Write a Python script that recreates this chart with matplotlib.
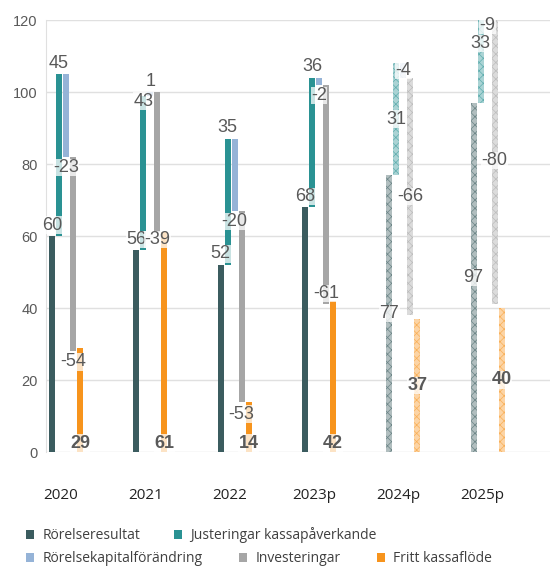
import matplotlib
matplotlib.use("Agg")
import matplotlib.pyplot as plt
from matplotlib.patches import Patch
from matplotlib.colors import to_rgb
import numpy as np

# ---- data ----
years = ['2020', '2021', '2022', '2023p', '2024p', '2025p']
rorelseresultat = [60, 56, 52, 68, 77, 97]
justeringar = [45, 43, 35, 36, 31, 33]
rorelsekapital = [-23, 1, -20, -2, -4, -9]
investeringar = [-54, -39, -53, -61, -66, -80]
fritt_kassaflode = [29, 61, 14, 42, 37, 40]
is_forecast = [False, False, False, False, True, True]
series_names = ['Rörelseresultat', 'Justeringar kassapåverkande',
                'Rörelsekapitalförändring', 'Investeringar', 'Fritt kassaflöde']

# ---- style ----
colors = ['#3b5c5f', '#2a9293', '#95b3d7', '#a6a6a6', '#f7941d']
label_color = '#595959'
teal_dy = [3, -1.5, 3, 3]
inv_dy = [-3, -2, -3.5, 3]

plt.rcParams['hatch.linewidth'] = 0.5


def lighten(c, f=0.5):
    r, g, b = to_rgb(c)
    return (r + (1 - r) * f, g + (1 - g) * f, b + (1 - b) * f)


fig = plt.figure(figsize=(5.5, 5.67), dpi=100)
ax = fig.add_axes([46 / 550, 1 - 452 / 567, 1 - 46 / 550, (452 - 20) / 567])

step = 0.083
width = 0.072
ymax = 120

for i, yr in enumerate(years):
    r = rorelseresultat[i]
    j = justeringar[i]
    k = rorelsekapital[i]
    inv = investeringar[i]
    f = fritt_kassaflode[i]
    bottoms = [0, r, r + j, r + j + k, 0]
    heights = [r, j, k, inv, f]
    fc = is_forecast[i]
    xs = [i + (s - 2) * step for s in range(5)]
    for s in range(5):
        if fc:
            ax.bar(xs[s], heights[s], width=width, bottom=bottoms[s],
                   facecolor=lighten(colors[s], 0.6), edgecolor=lighten(colors[s], 0.25),
                   hatch='xxxx', linewidth=0, zorder=2)
        else:
            ax.bar(xs[s], heights[s], width=width, bottom=bottoms[s],
                   color=colors[s], linewidth=0, zorder=2)

    txt = dict(ha='center', va='center', fontsize=13, color=label_color,
               family='Liberation Sans', zorder=5,
               bbox=dict(facecolor='white', edgecolor='none', alpha=0.75, pad=0.3))
    if not fc:
        ax.text(xs[0], r + 3, f'{r}', **txt)
        ax.text(xs[1], r + j + teal_dy[i], f'{j}', **txt)
        end_k = r + j + k
        ax.text(xs[2], end_k + (3 if k > 0 else -3), f'{k}', **txt)
        end_inv = end_k + inv
        ax.text(xs[3], end_inv + inv_dy[i], f'{inv}', **txt)
        ax.text(xs[4], 2.5, f'{f}', fontweight='bold', **txt)
    else:
        for s in range(5):
            mid = bottoms[s] + heights[s] / 2
            mid = min(mid, ymax - 1.5)
            if s == 1 and bottoms[s] + heights[s] > ymax:
                mid = min(mid, ymax - 6.5)
            kw2 = dict(txt)
            if s == 4:
                kw2['fontweight'] = 'bold'
            ax.text(xs[s], mid, f'{heights[s]}', **kw2)

ax.set_ylim(0, ymax)
ax.set_xlim(-0.237, 5.74)
ax.set_yticks(np.arange(0, 121, 20))
ax.yaxis.grid(True, color='#e0e0e0', linewidth=1, zorder=0)
ax.set_axisbelow(True)
for sp in ['top', 'right', 'bottom']:
    ax.spines[sp].set_visible(False)
ax.spines['left'].set_color('#e0e0e0')
ax.tick_params(axis='y', length=0, labelsize=10.5, labelcolor=label_color, pad=6)
for lbl in ax.get_yticklabels():
    lbl.set_family('Liberation Sans')
ax.set_xticks([i - 0.06 for i in range(len(years))])
ax.set_xticklabels(years, fontsize=11, family='Open Sans', color='#222222')
ax.tick_params(axis='x', length=0, pad=26)

# legend rows
handles = [Patch(facecolor=c, edgecolor='none') for c in colors]
leg_kw = dict(frameon=False, handlelength=0.6, handleheight=0.6, handletextpad=0.6,
              prop={'family': 'Open Sans', 'size': 10}, labelcolor='#404040',
              borderaxespad=0, borderpad=0)
fig.legend(handles[:2], series_names[:2], ncol=2, loc='center left',
           bbox_to_anchor=(26 / 550, 1 - 535 / 567), columnspacing=2.4, **leg_kw)
fig.legend(handles[2:], series_names[2:], ncol=3, loc='center left',
           bbox_to_anchor=(26 / 550, 1 - 559 / 567), columnspacing=2.6, **leg_kw)

fig.savefig('out.png', dpi=100)
